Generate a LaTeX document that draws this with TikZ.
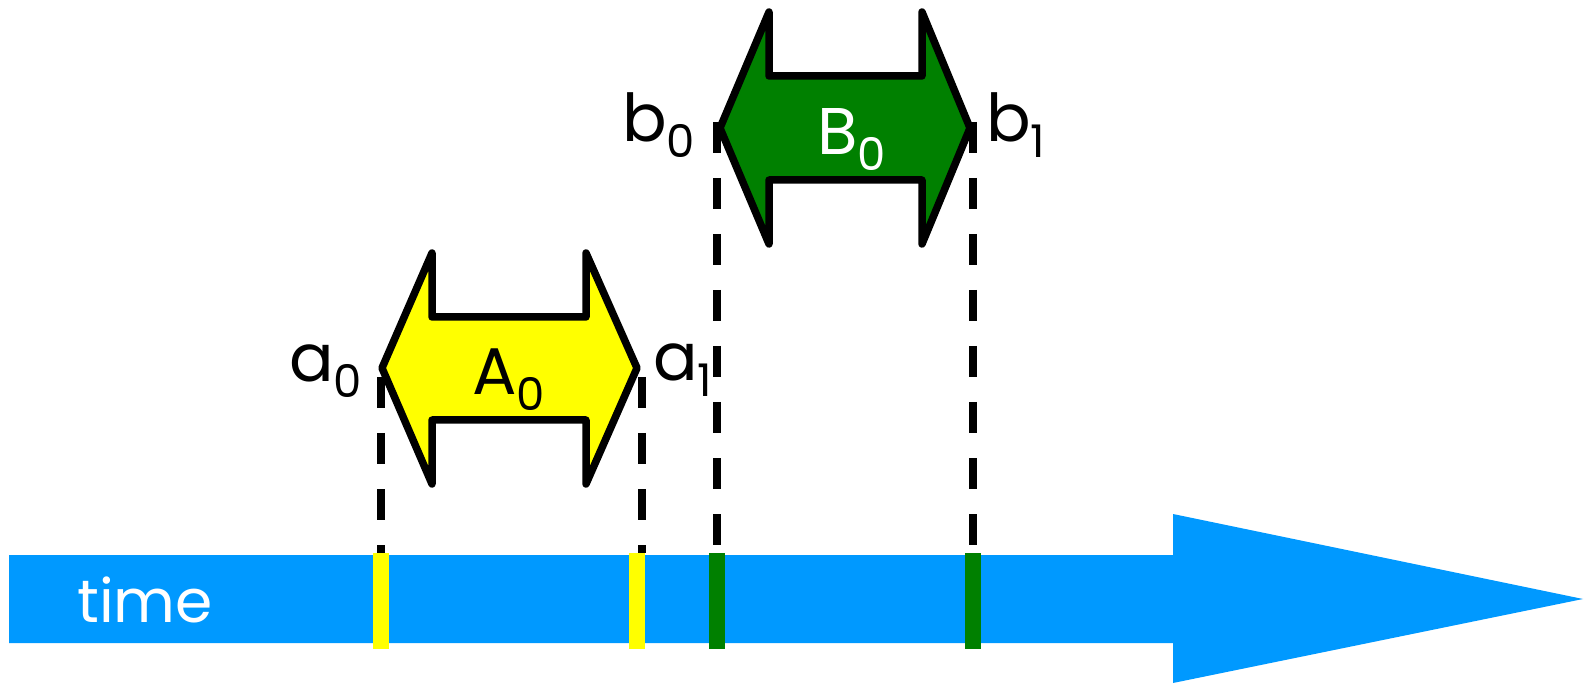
\documentclass[tikz,border=0pt]{standalone}
\usepackage{fontspec}
\setmainfont{Poppins}
\definecolor{timeblue}{RGB}{0,153,255}
\definecolor{agreen}{RGB}{0,128,0}
\definecolor{ayellow}{RGB}{255,255,0}
\newcommand\labsub[2]{#1\raisebox{-16pt}{\fontsize{45}{45}\selectfont #2}}
\tikzset{
  lab/.style={inner sep=0pt, anchor=base west, font=\fontsize{66}{66}\selectfont},
  dashline/.style={line width=8pt, dash pattern=on 31pt off 25pt, black},
  span/.style={line width=7.5pt, line join=round, draw=black},
  tick/.style={inner sep=0pt, minimum width=16pt, minimum height=96pt, anchor=north},
}
\begin{document}
\begin{tikzpicture}[x=1pt,y=-1pt]
\useasboundingbox (0,0) rectangle (1588,684);
% time arrow
\fill[timeblue] (9,555) -- (1173,555) -- (1173,514) -- (1583,599) -- (1173,683) -- (1173,643) -- (9,643) -- cycle;
\node[lab, text=white, font=\fontsize{60}{60}\selectfont] (time) at (77,622) {time};
% ticks
\node[tick, fill=ayellow] (ta0) at (381,553) {};
\node[tick, fill=ayellow] (ta1) at (637,553) {};
\node[tick, fill=agreen] (tb0) at (717,553) {};
\node[tick, fill=agreen] (tb1) at (973,553) {};
% dashed lines
\coordinate (da0) at (381,377);
\coordinate (da1) at (642,377);
\coordinate (db0) at (717,122);
\coordinate (db1) at (973,122);
\draw[dashline] (da0) -- (ta0.north -| da0);
\draw[dashline] (da1) -- (ta1.north -| da1);
\draw[dashline] (db0) -- (tb0.north);
\draw[dashline] (db1) -- (tb1.north);
% A0 double arrow
\draw[span, fill=ayellow] (382,368) -- (432,253) -- (432,317) -- (586,317) -- (586,253) -- (637,368)
  -- (586,484) -- (586,420) -- (432,420) -- (432,484) -- cycle;
% B0 double arrow
\draw[span, fill=agreen] (720,128) -- (769,12) -- (769,76) -- (922,76) -- (922,12) -- (970,128)
  -- (922,244) -- (922,180) -- (769,180) -- (769,244) -- cycle;
% labels
\node[lab] (a0) at (289,382) {\labsub{a}{0}};
\node[lab] (a1) at (653,381) {\labsub{a}{1}};
\node[lab] (A0) at (472,395) {\labsub{A}{0}};
\node[lab] (b0) at (622,142) {\labsub{b}{0}};
\node[lab] (b1) at (986,142) {\labsub{b}{1}};
\node[lab, text=white] (B0) at (817,155) {\labsub{B}{0}};
\end{tikzpicture}
\end{document}
